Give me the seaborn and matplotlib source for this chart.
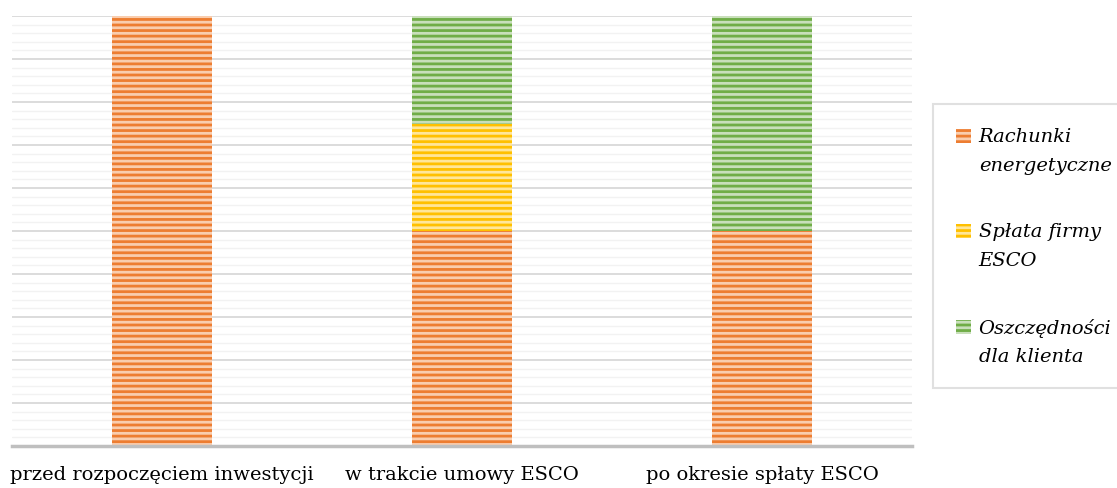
import pandas as pd
import matplotlib.pyplot as plt
import seaborn as sns
from matplotlib.patches import Patch, Rectangle
from matplotlib.legend_handler import HandlerPatch
from matplotlib.ticker import MultipleLocator

# Dane
categories = ["przed rozpoczęciem inwestycji", "w trakcie umowy ESCO", "po okresie spłaty ESCO"]
rachunki = [100, 50, 50]
splata = [0, 25, 0]
oszczednosci = [0, 25, 50]
series_names = ["Rachunki\nenergetyczne", "Spłata firmy\nESCO", "Oszczędności\ndla klienta"]
series_colors = ["#ED7D31", "#FFC000", "#70AD47"]
light_colors = ["#F9CDAE", "#FFE699", "#C9DFBB"]

df = pd.DataFrame({"kat": categories, "r": rachunki, "s": splata, "o": oszczednosci})
df["top_r"] = df["r"]
df["top_s"] = df["r"] + df["s"]
df["top_o"] = df["r"] + df["s"] + df["o"]

sns.set_style("white")
plt.rcParams["font.family"] = ["DejaVu Serif"]
plt.rcParams["hatch.linewidth"] = 2.0

fig = plt.figure(figsize=(11.17, 4.89), dpi=100)
ax = fig.add_axes([12 / 1117, 1 - 447 / 489, 900 / 1117, 430 / 489])

# stacked bars: tallest first, then overdraw
for col, c, lc in zip(["top_o", "top_s", "top_r"], series_colors[::-1], light_colors[::-1]):
    sns.barplot(data=df, x="kat", y=col, color=lc, saturation=1, width=1 / 3,
                edgecolor=c, linewidth=0, hatch="---", ax=ax)

ax.set_ylim(0, 100)
ax.set_xlim(-0.5, 2.5)
ax.yaxis.set_major_locator(MultipleLocator(10))
ax.yaxis.set_minor_locator(MultipleLocator(2))
ax.grid(axis="y", which="major", color="#D9D9D9", linewidth=1.3, zorder=0)
ax.grid(axis="y", which="minor", color="#F2F2F2", linewidth=1.0, zorder=0)
ax.set_axisbelow(True)
ax.set_yticklabels([])
ax.tick_params(axis="y", which="both", length=0)
ax.tick_params(axis="x", length=0, labelsize=14, pad=14, colors="#000000")
ax.set_xlabel("")
ax.set_ylabel("")
for s in ["top", "left", "right"]:
    ax.spines[s].set_visible(False)
ax.spines["bottom"].set_color("#BFBFBF")
ax.spines["bottom"].set_linewidth(2.5)


# legend marker aligned with first text line
def top_square(legend, orig_handle, xdescent, ydescent, width, height, fontsize):
    return Rectangle((-xdescent, -ydescent + 10.5), width, height)


handles = [Patch(facecolor=lc, edgecolor=c, hatch="---", linewidth=0)
           for c, lc in zip(series_colors, light_colors)]
leg = fig.legend(handles, series_names, loc="upper left", bbox_to_anchor=(933 / 1117, 1 - 105 / 489),
                 frameon=True, fancybox=False, edgecolor="#D9D9D9",
                 prop={"style": "italic", "size": 14}, handlelength=0.75, handleheight=0.75,
                 handletextpad=0.4, labelspacing=2.5, borderpad=1.2, borderaxespad=0,
                 handler_map={Patch: HandlerPatch(patch_func=top_square)})
leg.get_frame().set_linewidth(1.5)
for t in leg.get_texts():
    t.set_linespacing(1.75)
    t.set_color("#000000")

plt.savefig("out.png", dpi=100, facecolor="white")
